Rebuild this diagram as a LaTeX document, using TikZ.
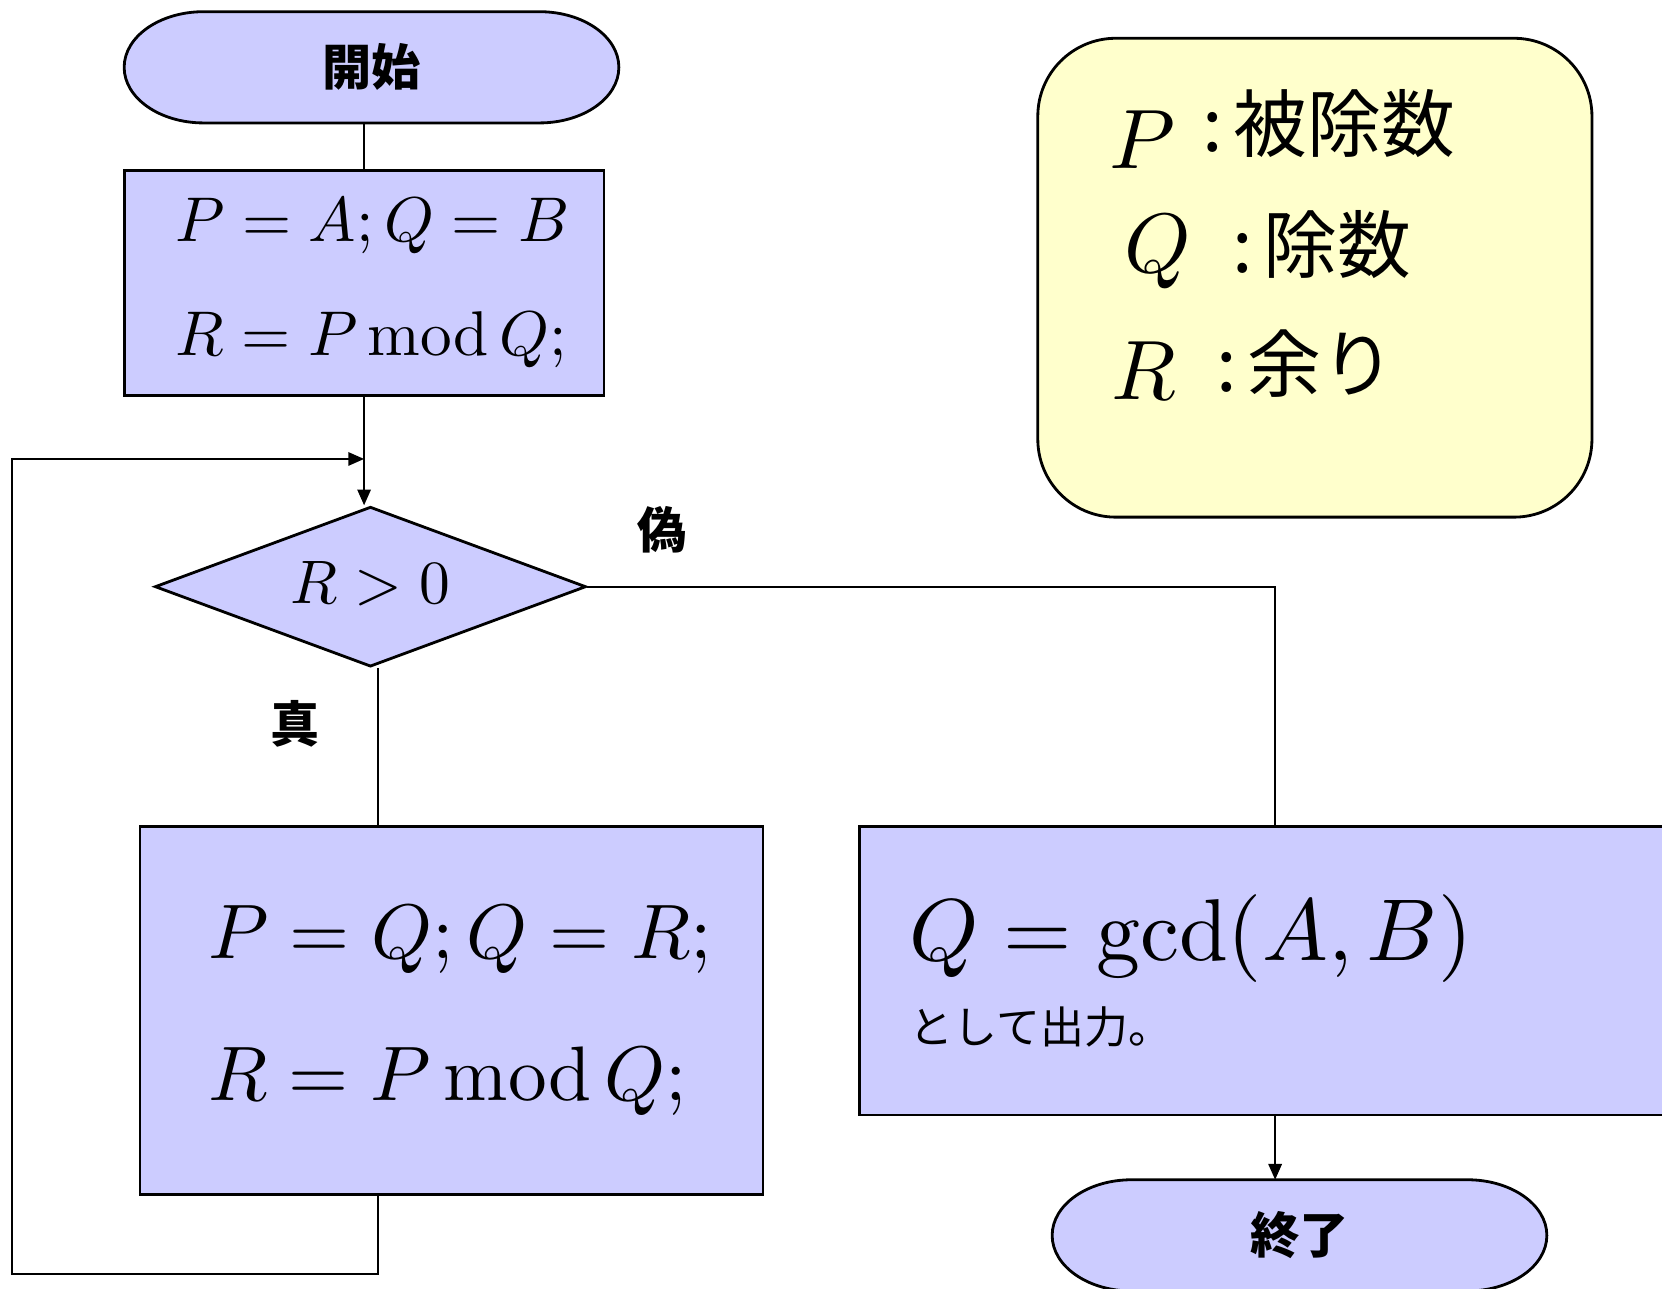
\documentclass[tikz,border=0pt]{standalone}
\usepackage[no-math]{fontspec}
\newfontfamily\jp{Noto Sans CJK JP}
\DeclareFontShape{OT1}{cmr}{m}{n}{<->cmr10}{}
\DeclareFontShape{OML}{cmm}{m}{it}{<->cmmi10}{}
\DeclareFontShape{OMS}{cmsy}{m}{n}{<->cmsy10}{}
\usepackage{tikz}
\usetikzlibrary{arrows.meta,shapes.geometric,calc,backgrounds}

\definecolor{boxblue}{RGB}{204,204,255}
\definecolor{noteyel}{RGB}{255,255,204}
\newcommand{\pmodq}{P\,\mathrm{mod}\,Q}

\begin{document}
\begin{tikzpicture}[x=0.0106cm, y=-0.0106cm,
    term/.style={font=\jp\bfseries\fontsize{14}{16}\selectfont,
                minimum width=4.95cm, minimum height=1.113cm, inner sep=0pt, outer sep=0pt},
    termline/.style={draw, line width=0.8pt, fill=boxblue},
    proc/.style={draw, line width=0.8pt, fill=boxblue, align=left, inner sep=0pt},
    cond/.style={diamond, draw, line width=0.8pt, fill=boxblue, aspect=2.7,
                minimum width=4.314cm, minimum height=1.6cm, inner sep=0pt,
                font=\fontsize{17.5}{20}\selectfont},
    note/.style={draw, line width=0.8pt, fill=noteyel, rounded corners=0.78cm,
                minimum width=5.544cm, minimum height=4.791cm},
    notemath/.style={anchor=base west, inner sep=0pt, font=\fontsize{24}{28}\selectfont},
    notetxt/.style={anchor=base west, inner sep=0pt, font=\jp\fontsize{21}{25}\selectfont},
    lbl/.style={font=\jp\bfseries\fontsize{14}{16}\selectfont, inner sep=0pt},
    conn/.style={line width=0.6pt},
    arr/.style={conn, -{Triangle[length=4.5pt, width=3.8pt]}}
  ]
    \useasboundingbox (0,0) rectangle (1568,1216);
    \clip (0,0) rectangle (1568,1216);

    % flow
    \node[term] (st) at (350.5,63.5) {開始};
    \node[proc, minimum width=4.802cm, minimum height=2.247cm,
          font=\fontsize{18}{32.2}\selectfont] (ini) at (343.5,267)
          {\hspace*{4.8pt}$P = A;Q = B$\\\hspace*{4.8pt}$R = \pmodq;$};
    \node[cond] (dec) at (349.5,553.5) {\raisebox{2.2pt}{$R > 0$}\hspace{14pt}};
    \node[proc, minimum width=6.233cm, minimum height=3.678cm,
          font=\fontsize{22}{40.6}\selectfont] (body) at (426,953.5)
          {\hspace*{4.8pt}$P = Q;Q = R;$\\\hspace*{4.8pt}$R = \pmodq;$};
    \node[proc, minimum width=8.31cm, minimum height=2.883cm, text width=7.31cm,
          font=\fontsize{25}{23.5}\selectfont] (out) at (1203,916)
          {$Q = \gcd(A,B)$\\{\jp\fontsize{12.5}{15}\selectfont として出力。}};
    \node[term] (en) at (1226,1165.5) {終了};

    \node[lbl] (tlbl) at (278,683) {真};
    \node[lbl] (flbl) at (625,500) {偽};

    % legend
    \node[note] (leg) at (1240.5,262) {};
    \node[notemath] (vp) at (1046,159) {$P$};
    \node[notetxt]  (dp) at (1134,143) {:\hspace{3pt}被除数};
    \node[notemath] (vq) at (1060,257) {$Q$};
    \node[notetxt]  (dq) at (1162,257) {:\hspace{3pt}除数};
    \node[notemath] (vr) at (1048,377) {$R$};
    \node[notetxt]  (dr) at (1147,369) {:\hspace{3pt}余り};

    % terminal outlines
    \begin{scope}[on background layer]
      \foreach \t in {st,en} {
        \filldraw[termline] ($(\t.north west)+(75,0)$) -- ($(\t.north east)+(-75,0)$)
          arc[start angle=90, end angle=-90, x radius=0.795cm, y radius=0.5565cm]
          -- ($(\t.south west)+(75,0)$)
          arc[start angle=270, end angle=90, x radius=0.795cm, y radius=0.5565cm] -- cycle;
      }
    \end{scope}

    % connectors
    \coordinate (tx) at ($(dec.south)+(7,0)$);
    \coordinate (lpb) at (11,1202);
    \coordinate (lpt) at (11,433);

    \draw[conn] (st.south -| ini.north) -- (ini.north);
    \draw[arr] (ini.south) -- (ini.south |- dec.north);
    \draw[conn] (tx) -- (tx |- body.north);
    \draw[conn] (dec.east) -- (dec.east -| out.north) -- (out.north);
    \draw[arr] (out.south) -- (out.south |- en.north);
    \draw[arr] (tx |- body.south) -- (tx |- lpb) -- (lpb) -- (lpt) -- (lpt -| ini.south);
\end{tikzpicture}
\end{document}
